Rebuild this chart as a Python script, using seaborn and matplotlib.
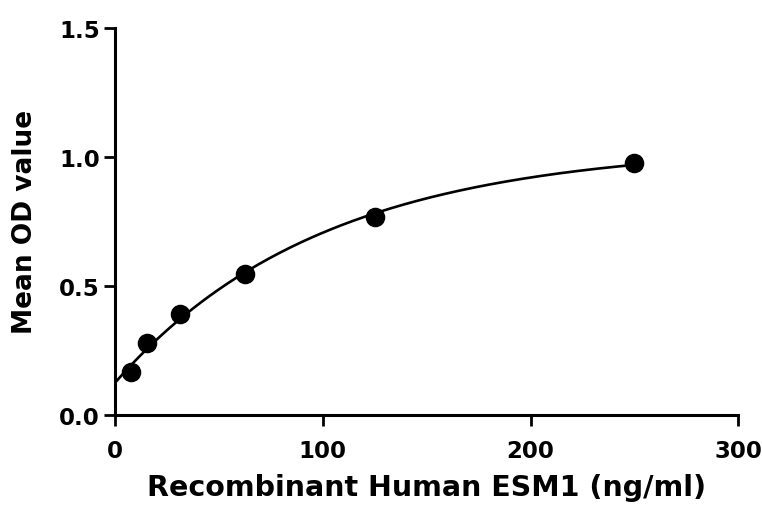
import numpy as np
import pandas as pd
import matplotlib
matplotlib.use('Agg')
import matplotlib.pyplot as plt
import seaborn as sns

# standard curve readings
conc = [7.8, 15.6, 31.25, 62.5, 125, 250]
od = [0.165, 0.28, 0.39, 0.548, 0.768, 0.975]

data = pd.DataFrame({'conc': conc, 'od': od})

# saturating fit y = a - b*exp(-x/c), c by grid search, a and b by least squares
x = np.array(conc)
y = np.array(od)
best = None
for c in np.linspace(20, 400, 381):
    A = np.column_stack([np.ones_like(x), -np.exp(-x / c)])
    sol, res, _, _ = np.linalg.lstsq(A, y, rcond=None)
    err = np.sum((A @ sol - y) ** 2)
    if best is None or err < best[0]:
        best = (err, sol[0], sol[1], c)
_, a, b, c = best
xs = np.linspace(0, max(conc), 200)
fit = pd.DataFrame({'conc': xs, 'od': a - b * np.exp(-xs / c)})

sns.set_style('ticks')
plt.rcParams['font.family'] = ['DejaVu Sans']
plt.rcParams['text.color'] = 'black'
plt.rcParams['axes.labelcolor'] = 'black'
plt.rcParams['xtick.color'] = 'black'
plt.rcParams['ytick.color'] = 'black'

fig = plt.figure(figsize=(7.62, 5.06), dpi=100)
ax = fig.add_axes([0.151, 0.178, 0.818, 0.765])

sns.lineplot(data=fit, x='conc', y='od', color='black', linewidth=1.9, ax=ax)
sns.scatterplot(data=data, x='conc', y='od', color='black', s=170, edgecolor='black', zorder=3, ax=ax)

ax.set_xlim(0, 300)
ax.set_ylim(0, 1.5)
ax.set_xticks([0, 100, 200, 300])
ax.set_yticks([0, 0.5, 1.0, 1.5])
ax.set_yticklabels(['0.0', '0.5', '1.0', '1.5'])
ax.set_xlabel('Recombinant Human ESM1 (ng/ml)', fontsize=20.5, fontweight='bold', labelpad=8)
ax.set_ylabel('Mean OD value', fontsize=19, fontweight='bold', labelpad=15)
ax.tick_params(axis='both', labelsize=16.5, width=2, length=8, pad=3)
ax.tick_params(axis='x', pad=9)
for lab in ax.get_xticklabels() + ax.get_yticklabels():
    lab.set_fontweight('bold')
for s in ['left', 'bottom']:
    ax.spines[s].set_linewidth(2.2)
    ax.spines[s].set_color('black')
sns.despine(ax=ax)

plt.savefig('out.png', dpi=100)
